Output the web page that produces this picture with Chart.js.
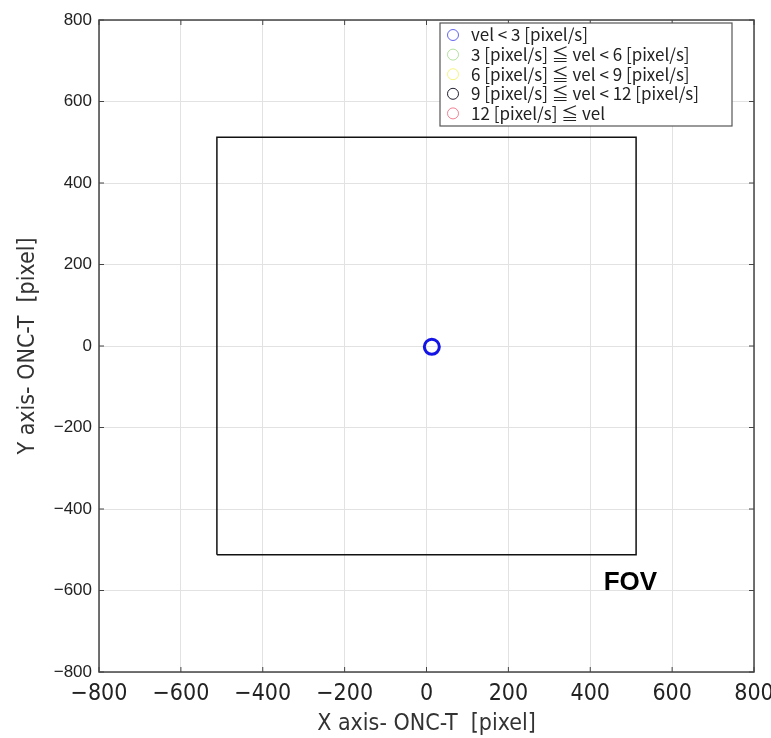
<!DOCTYPE html>
<html>
<head>
<meta charset="utf-8">
<script src="https://cdn.jsdelivr.net/npm/chart.js@4.4.1/dist/chart.umd.min.js"></script>
<style>
  html, body { margin: 0; padding: 0; background: #fff; }
  #wrap { width: 771px; height: 738px; }
</style>
</head>
<body>
<div id="wrap"><canvas id="fovChart" width="771" height="738"></canvas></div>
<script>
// axis range / ticks
const axisMin = -800;
const axisMax = 800;
const tickStep = 200;

// FOV frame of ONC-T (1024 x 1024 px)
const fovX = [-512, -512, 512, 512, -512];
const fovY = [-512, 512, 512, -512, -512];

// velocity classes
const velLabels = [
  'vel < 3 [pixel/s]',
  '3 [pixel/s] \u2266 vel < 6 [pixel/s]',
  '6 [pixel/s] \u2266 vel < 9 [pixel/s]',
  '9 [pixel/s] \u2266 vel < 12 [pixel/s]',
  '12 [pixel/s] \u2266 vel'
];
const velColors = ['#1414e6', '#8fcf6f', '#eeee40', '#202030', '#e8405a'];
const velX = [[13], [], [], [], []];
const velY = [[-2], [], [], [], []];

const fovLabel = 'FOV';
const fovLabelPos = [498, -582];

var datasets = [{
  label: 'FOV',
  data: fovX.map(function (x, i) { return { x: x, y: fovY[i] }; }),
  showLine: true,
  borderColor: '#111',
  borderWidth: 1.5,
  pointRadius: 0,
  fill: false
}];
velLabels.forEach(function (lab, k) {
  datasets.push({
    label: lab,
    data: velX[k].map(function (x, i) { return { x: x, y: velY[k][i] }; }),
    showLine: false,
    borderColor: velColors[k],
    backgroundColor: 'rgba(0,0,0,0)',
    pointStyle: 'circle',
    pointRadius: 7.5,
    pointBorderWidth: 3
  });
});

function minusSign(v) { return String(v).replace('-', '\u2212'); }

// box, inward ticks, FOV text and in-plot legend
const matlabLook = {
  id: 'matlabLook',
  afterDraw: function (chart) {
    var ctx = chart.ctx, a = chart.chartArea;
    var xs = chart.scales.x, ys = chart.scales.y;
    ctx.save();
    ctx.strokeStyle = '#444';
    ctx.lineWidth = 1.5;
    ctx.strokeRect(a.left, a.top, a.right - a.left, a.bottom - a.top);
    ctx.lineWidth = 1;
    ctx.beginPath();
    xs.ticks.forEach(function (t) {
      var px = xs.getPixelForValue(t.value);
      ctx.moveTo(px, a.bottom); ctx.lineTo(px, a.bottom - 5);
      ctx.moveTo(px, a.top); ctx.lineTo(px, a.top + 5);
    });
    ys.ticks.forEach(function (t) {
      var py = ys.getPixelForValue(t.value);
      ctx.moveTo(a.left, py); ctx.lineTo(a.left + 5, py);
      ctx.moveTo(a.right, py); ctx.lineTo(a.right - 5, py);
    });
    ctx.stroke();

    // FOV label
    ctx.fillStyle = '#000';
    ctx.font = 'bold 26px "Liberation Sans", Arial, sans-serif';
    ctx.textAlign = 'center';
    ctx.textBaseline = 'middle';
    ctx.fillText(fovLabel, xs.getPixelForValue(fovLabelPos[0]), ys.getPixelForValue(fovLabelPos[1]));

    // legend
    var bx = 440, by = 23, bw = 292, bh = 103, row = 19.6;
    ctx.fillStyle = '#fff';
    ctx.fillRect(bx, by, bw, bh);
    ctx.strokeStyle = '#555';
    ctx.lineWidth = 1.2;
    ctx.strokeRect(bx, by, bw, bh);
    ctx.font = '17px "Noto Sans CJK JP", sans-serif';
    ctx.textAlign = 'left';
    ctx.textBaseline = 'middle';
    for (var k = 0; k < velLabels.length; k++) {
      var cy = by + 12 + k * row;
      ctx.globalAlpha = k === 3 ? 1 : 0.65;
      ctx.strokeStyle = velColors[k];
      ctx.lineWidth = 1;
      ctx.beginPath();
      ctx.arc(bx + 13, cy, 5.5, 0, Math.PI * 2);
      ctx.stroke();
      ctx.globalAlpha = 1;
      ctx.fillStyle = '#222';
      ctx.fillText(velLabels[k], bx + 31, cy);
    }
    ctx.restore();
  }
};

new Chart(document.getElementById('fovChart').getContext('2d'), {
  type: 'scatter',
  data: { datasets: datasets },
  options: {
    responsive: false,
    animation: false,
    layout: { padding: { top: 20, right: 17, left: 0, bottom: 0 } },
    plugins: { legend: { display: false }, tooltip: { enabled: false } },
    scales: {
      x: {
        type: 'linear',
        min: axisMin, max: axisMax,
        afterFit: function (s) { s.height = 66; s.paddingRight = 0; },
        ticks: { stepSize: tickStep, color: '#222', padding: 8, maxRotation: 0, callback: minusSign,
          font: { family: '"Liberation Sans Narrow", "DejaVu Sans Condensed", sans-serif', size: 23 } },
        grid: { color: '#e2e2e2', drawTicks: false },
        border: { display: false },
        title: { display: true, text: 'X axis- ONC-T  [pixel]', color: '#333', padding: { top: 0, bottom: 0 },
          font: { family: '"Liberation Sans Narrow", "DejaVu Sans Condensed", sans-serif', size: 23 } }
      },
      y: {
        type: 'linear',
        min: axisMin, max: axisMax,
        ticks: { stepSize: tickStep, color: '#222', padding: 7, callback: minusSign,
          font: { family: '"Liberation Sans", Arial, sans-serif', size: 17 } },
        grid: { color: '#e2e2e2', drawTicks: false },
        border: { display: false },
        title: { display: true, text: 'Y axis- ONC-T  [pixel]', color: '#333', padding: { top: 14, bottom: 0 },
          font: { family: '"Liberation Sans Narrow", "DejaVu Sans Condensed", sans-serif', size: 23 } },
        afterFit: function (s) { s.width = 99; s.paddingTop = 0; s.paddingBottom = 0; }
      }
    }
  },
  plugins: [matlabLook]
});
</script>
</body>
</html>
